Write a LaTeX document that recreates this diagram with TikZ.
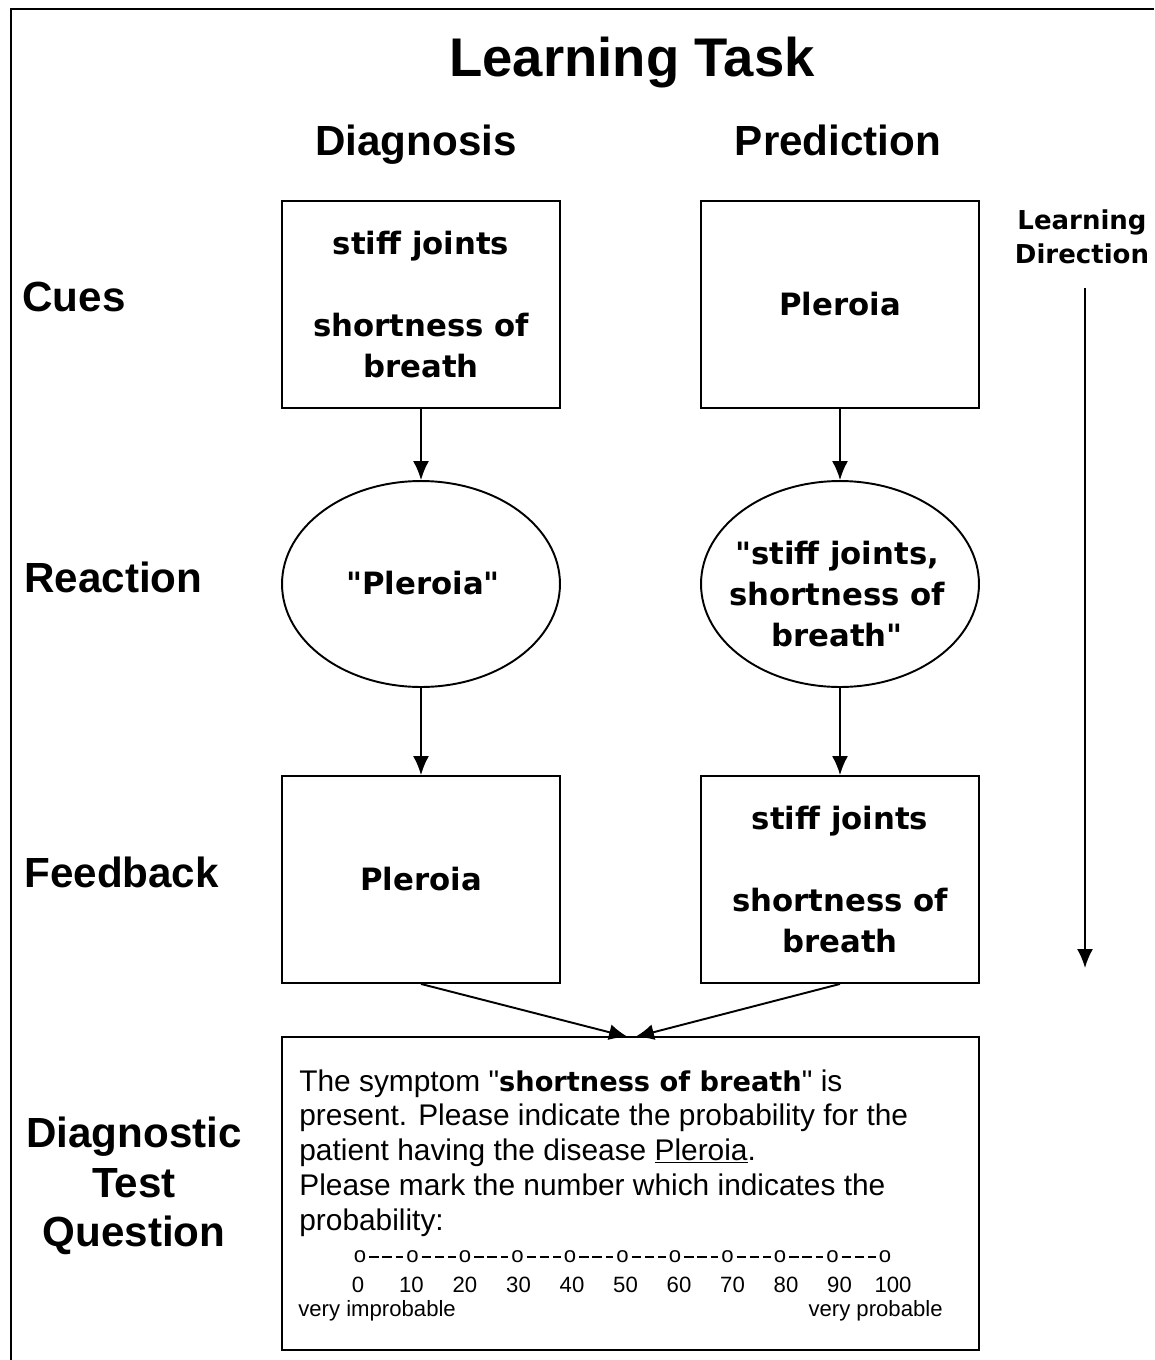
\documentclass[tikz,border=0pt]{standalone}
\usepackage{fontspec}
\setmainfont{Liberation Sans}[Ligatures=TeXOff]
\newfontfamily\vfont{DejaVu Sans}
\usetikzlibrary{arrows.meta,shapes.geometric}

\begin{document}
\begin{tikzpicture}[x=0.02cm,y=-0.02cm]
\tikzstyle{every node}+=[inner sep=0pt]
\tikzstyle{heading}=[align=center, font=\bfseries\fontsize{24}{28.3}\selectfont]
\tikzstyle{cell}=[draw, line width=1.1pt, minimum width=5.56cm, minimum height=4.14cm, align=center, font=\vfont\bfseries\fontsize{17.5}{23.5}\selectfont]
\tikzstyle{react}=[draw, ellipse, line width=1.1pt, minimum width=5.56cm, minimum height=4.12cm]
\tikzstyle{celltext}=[align=center, font=\vfont\bfseries\fontsize{17.5}{23.5}\selectfont]
\tikzstyle{flow}=[line width=1.1pt, -{Latex[length=0.38cm,width=0.32cm]}]
\tikzstyle{qtext}=[anchor=base west, font=\fontsize{17}{20}\selectfont]
\tikzstyle{scaletext}=[font=\fontsize{12.6}{15}\selectfont]
\useasboundingbox (0,0) rectangle (1154,1360);
\draw [line width=1.7pt] (11,1360) -- (11,9) -- (1154,9);
\node [anchor=base, font=\bfseries\fontsize{31}{36}\selectfont] (title) at (632,76) {Learning Task};
\node [heading, anchor=base] (diag) at (416,155) {Diagnosis};
\node [heading, anchor=base] (pred) at (838,155) {Prediction};
\node [heading, anchor=west] (cues) at (22,297) {Cues};
\node [heading, anchor=west] (reaction) at (24,577) {Reaction};
\node [heading, anchor=west] (feedback) at (24,872) {Feedback};
\node [heading] (testq) at (134,1186) {Diagnostic\\Test\\Question};
\node [align=center, font=\vfont\bfseries\fontsize{14.8}{19.3}\selectfont] (ldir) at (1082,237) {Learning\\Direction};
\coordinate (ldtop) at (1085,288);
\coordinate (ldbot) at (1085,968);
\draw [flow] (ldtop) -- (ldbot);
\node [cell] (cueD) at (421,304.5) {stiff joints\\[23.5pt]shortness of\\breath};
\node [cell] (cueP) at (840,304.5) {Pleroia};
\node [react] (reacD) at (421,584) {};
\node [react] (reacP) at (840,584) {};
\node [celltext] (reacDtxt) at (423,583) {"Pleroia"};
\node [celltext] (reacPtxt) at (837,594) {"stiff joints,\\shortness of\\breath"};
\node [cell] (fbD) at (421,879.5) {Pleroia};
\node [cell] (fbP) at (840,879.5) {stiff joints\\[23.5pt]shortness of\\breath};
\draw [flow] (cueD) -- (reacD);
\draw [flow] (reacD) -- (fbD);
\draw [flow] (cueP) -- (reacP);
\draw [flow] (reacP) -- (fbP);
\node [draw, line width=1.1pt, minimum width=13.94cm, minimum height=6.26cm] (quest) at (630.5,1193.5) {};
\coordinate (qinL) at (628,1037);
\coordinate (qinR) at (635,1037);
\draw [flow] (fbD.south) -- (qinL);
\draw [flow] (fbP.south) -- (qinR);
\node [qtext] (q1) at (299,1091) {The symptom "{\vfont\bfseries\fontsize{15.5}{20}\selectfont shortness of breath}" is};
\node [qtext] (q2) at (299,1125.5) {present. Please indicate the probability for the};
\node [qtext] (q3) at (299,1160) {patient having the disease \underline{Pleroia}.};
\node [qtext] (q4) at (299,1195) {Please mark the number which indicates the};
\node [qtext] (q5) at (299,1230) {probability:};
\foreach \i in {0,...,10}
  \node [scaletext] (o\i) at (360+52.5*\i,1257) {o};
\foreach \i [evaluate=\i as \j using int(\i+1)] in {0,...,9}
  \draw [line width=0.6pt, dash pattern=on 5.5pt off 2pt, shorten <=1.5pt, shorten >=1.5pt] (o\i) -- (o\j);
\foreach \v [count=\k from 0] in {0,10,...,100}
  \node [scaletext] (n\v) at (358+53.5*\k,1285) {\v};
\node [scaletext, anchor=base west] (improb) at (298,1316) {very improbable};
\node [scaletext, anchor=base east] (prob) at (943,1316) {very probable};
\end{tikzpicture}
\end{document}
